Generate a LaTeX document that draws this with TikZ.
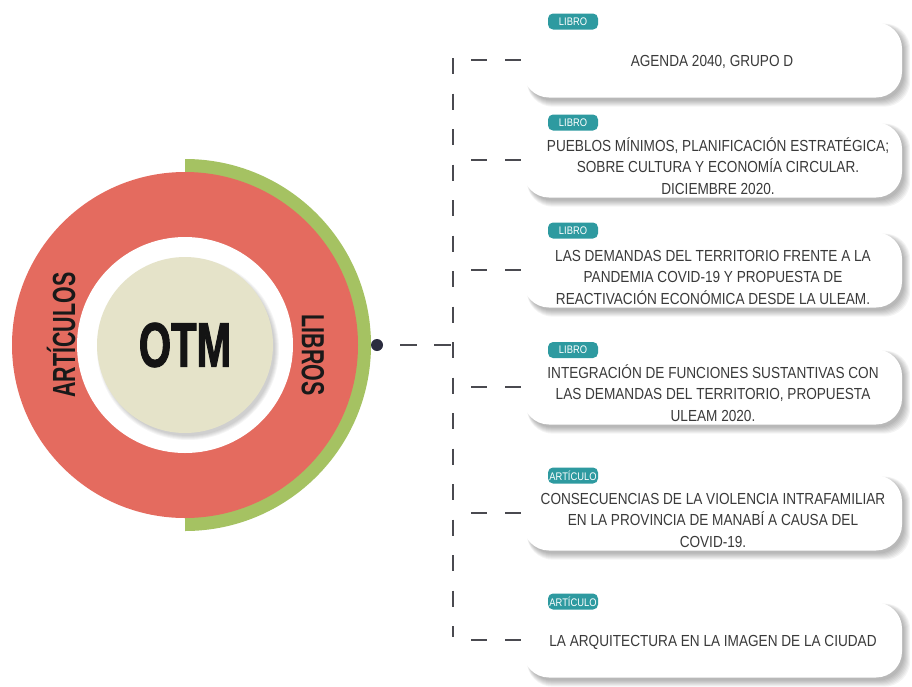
\documentclass[tikz,border=0pt]{standalone}
\usepackage{fontspec}
\setmainfont{Liberation Sans}
\newfontfamily\condf[FakeStretch=0.85]{Liberation Sans}
\newfontfamily\headf[FakeStretch=0.67]{Liberation Sans}
\newfontfamily\otmf[FakeStretch=0.66,BoldFeatures={FakeBold=1.5}]{Liberation Sans}
\usetikzlibrary{calc}
\definecolor{ringred}{HTML}{E46B5F}
\definecolor{ringgreen}{HTML}{A5C262}
\definecolor{beige}{HTML}{E5E3C9}
\definecolor{tealtag}{HTML}{2E9AA0}
\definecolor{dotcol}{HTML}{2A2C3F}
\definecolor{dashcol}{HTML}{4A4A50}
\definecolor{txt}{HTML}{3A3A3A}
\pgfdeclarelayer{back}
\pgfdeclarelayer{bg}
\pgfsetlayers{back,bg,main}
\begin{document}
\begin{tikzpicture}[x=1pt,y=-1pt,
  itembox/.style={draw=none, fill=white, rounded corners=26pt, minimum width=379pt, minimum height=75pt, inner sep=0pt},
  itemtext/.style={text=txt, align=center, inner sep=0pt, font=\condf\fontsize{16}{21.5}\selectfont},
  tag/.style={fill=tealtag, text=white, rounded corners=5pt, minimum width=50pt, minimum height=16pt, inner sep=0pt, font=\condf\fontsize{11}{11}\selectfont},
  vdash/.style={draw=dashcol, line width=1.6pt, dash pattern=on 16pt off 19.5pt},
  hdash/.style={draw=dashcol, line width=1.6pt, dash pattern=on 16pt off 18pt, dash phase=16pt},
  mdash/.style={draw=dashcol, line width=1.6pt, dash pattern=on 17pt off 17pt, dash phase=17pt},
  ringlabel/.style={text=black!90, inner sep=0pt, font=\headf\bfseries\fontsize{32}{32}\selectfont}
]
\useasboundingbox (0,0) rectangle (912,686);
\begin{pgfonlayer}{back}
\fill[white] (0,0) rectangle (912,686);
\end{pgfonlayer}

% ---- circle ----
\coordinate (c) at (185,345);
\begin{scope}
  \clip (185,100) rectangle (420,600);
  \fill[ringgreen] (c) circle[radius=186pt];
\end{scope}
\fill[ringred] (c) circle[radius=173pt];
\fill[white] (c) circle[radius=108pt];
\foreach \k in {1,...,5}{
  \fill[black, opacity=0.04] ($(c)+(3,4)$) circle[radius=86pt+\k pt];
}
\node[circle, fill=beige, minimum size=176pt, inner sep=0pt, text=black!92,
      font=\otmf\bfseries\fontsize{63}{63}\selectfont] (otm) at (c) {OTM};
\node[ringlabel, rotate=90] (art) at (61,335) {ARTÍCULOS};
\node[ringlabel, rotate=-90] (lib) at (313,355) {LIBROS};

% ---- connectors ----
\node[circle, fill=dotcol, minimum size=12pt, inner sep=0pt] (dot) at (377,345) {};
\coordinate (vtop) at (453,58);
\coordinate (vbot) at (453,637);
\coordinate (vmid) at (453,345);
\draw[vdash] (vtop) -- (vbot);
\draw[mdash] (dot) -- (vmid);

% ---- boxes ----
\node[itembox] (b1) at (712.5,60) {};
\node[itembox] (b2) at (712.5,160) {};
\node[itembox] (b3) at (712.5,270) {};
\node[itembox] (b4) at (712.5,387) {};
\node[itembox] (b5) at (712.5,513) {};
\node[itembox] (b6) at (712.5,640) {};

\begin{pgfonlayer}{bg}
\foreach \b in {b1,b2,b3,b4,b5,b6}{
  \foreach \k in {1,...,7}{
    \fill[black, opacity=0.045, rounded corners=26pt]
      ($(\b.north west)+(4,4-0.4*\k)$) rectangle ($(\b.south east)+(1+\k,2+\k)$);
  }
}
\end{pgfonlayer}

\foreach \i/\y in {1/60,2/160,3/270,4/387,5/513,6/640}{
  \coordinate (v\i) at (453,\y);
  \draw[hdash] (v\i) -- (b\i.west);
}

\node[tag] (g1) at (573,21.5) {LIBRO};
\node[tag] (g2) at (573,122.5) {LIBRO};
\node[tag] (g3) at (573,230.5) {LIBRO};
\node[tag] (g4) at (573,350) {LIBRO};
\node[tag] (g5) at (573,475.5) {ARTÍCULO};
\node[tag] (g6) at (573,601.5) {ARTÍCULO};

\node[itemtext] (t1) at (712,62) {AGENDA 2040, GRUPO D};
\node[itemtext] (t2) at (718,166) {PUEBLOS MÍNIMOS, PLANIFICACIÓN ESTRATÉGICA;\\SOBRE CULTURA Y ECONOMÍA CIRCULAR.\\DICIEMBRE 2020.};
\node[itemtext] (t3) at (713,277) {LAS DEMANDAS DEL TERRITORIO FRENTE A LA\\PANDEMIA COVID-19 Y PROPUESTA DE\\REACTIVACIÓN ECONÓMICA DESDE LA ULEAM.};
\node[itemtext] (t4) at (713,393) {INTEGRACIÓN DE FUNCIONES SUSTANTIVAS CON\\LAS DEMANDAS DEL TERRITORIO, PROPUESTA\\ULEAM 2020.};
\node[itemtext] (t5) at (713,520) {CONSECUENCIAS DE LA VIOLENCIA INTRAFAMILIAR\\EN LA PROVINCIA DE MANABÍ A CAUSA DEL\\COVID-19.};
\node[itemtext] (t6) at (713,642) {LA ARQUITECTURA EN LA IMAGEN DE LA CIUDAD};
\end{tikzpicture}
\end{document}
